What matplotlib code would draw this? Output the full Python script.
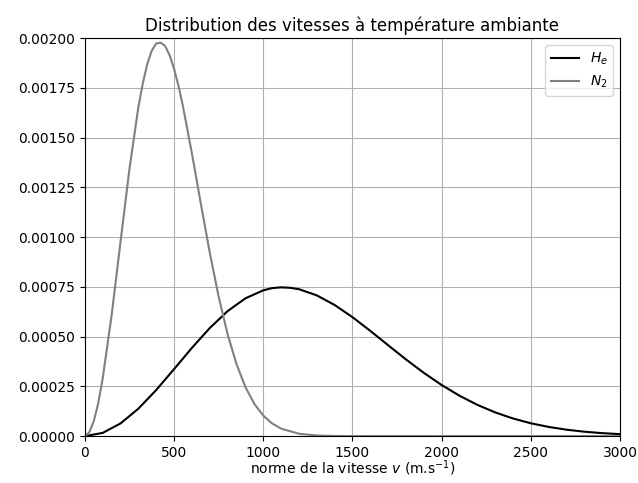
import matplotlib
matplotlib.use('Agg')
import matplotlib.pyplot as plt
from matplotlib.ticker import FormatStrFormatter

# vitesses (m/s) et densites
v_he = [0, 100, 200, 300, 400, 500, 600, 700, 800, 900, 1000, 1050, 1100,
        1150, 1200, 1300, 1400, 1500, 1600, 1700, 1800, 1900, 2000, 2100,
        2200, 2300, 2400, 2500, 2600, 2700, 2800, 2900, 3000]
f_he = [0.0, 1.64e-5, 6.39e-5, 1.381e-4, 2.319e-4, 3.368e-4, 4.436e-4,
        5.433e-4, 6.282e-4, 6.926e-4, 7.329e-4, 7.440e-4, 7.478e-4,
        7.456e-4, 7.385e-4, 7.074e-4, 6.590e-4, 5.979e-4, 5.289e-4,
        4.568e-4, 3.854e-4, 3.180e-4, 2.568e-4, 2.030e-4, 1.572e-4,
        1.192e-4, 8.87e-5, 6.46e-5, 4.62e-5, 3.24e-5, 2.23e-5, 1.51e-5,
        1.00e-5]

v_n2 = [0, 25, 50, 75, 100, 150, 200, 250, 300, 325, 350, 375, 400, 425,
        450, 475, 500, 525, 550, 600, 650, 700, 750, 800, 850, 900, 950,
        1000, 1050, 1100, 1200, 1300, 1400, 1500, 2000, 2500, 3000]
f_n2 = [0.0, 1.93e-5, 7.56e-5, 1.650e-4, 2.898e-4, 6.072e-4, 9.771e-4,
        1.3431e-3, 1.6537e-3, 1.7741e-3, 1.8704e-3, 1.9374e-3, 1.9731e-3,
        1.9775e-3, 1.9605e-3, 1.9142e-3, 1.8463e-3, 1.7592e-3, 1.6567e-3,
        1.4210e-3, 1.1683e-3, 9.224e-4, 7.005e-4, 5.125e-4, 3.617e-4,
        2.463e-4, 1.621e-4, 1.031e-4, 6.35e-5, 3.77e-5, 1.21e-5, 3.4e-6,
        8.5e-7, 2e-7, 0.0, 0.0, 0.0]

fig, ax = plt.subplots(figsize=(6.38, 4.83), dpi=100)
fig.subplots_adjust(left=0.133, right=0.972, top=0.921, bottom=0.097)

ax.plot(v_he, f_he, color='black', label='$H_e$')
ax.plot(v_n2, f_n2, color='grey', label='$N_2$')

ax.set_xlim(0, 3000)
ax.set_ylim(0, 0.002)
ax.set_yticks([i * 0.00025 for i in range(9)])
ax.yaxis.set_major_formatter(FormatStrFormatter('%.5f'))
ax.grid(True)
ax.set_xlabel('norme de la vitesse $v$ (m.s$^{-1}$)', labelpad=-1)
ax.set_title('Distribution des vitesses à température ambiante', pad=5)
ax.legend(loc='upper right')

fig.savefig('out.png', dpi=100)
